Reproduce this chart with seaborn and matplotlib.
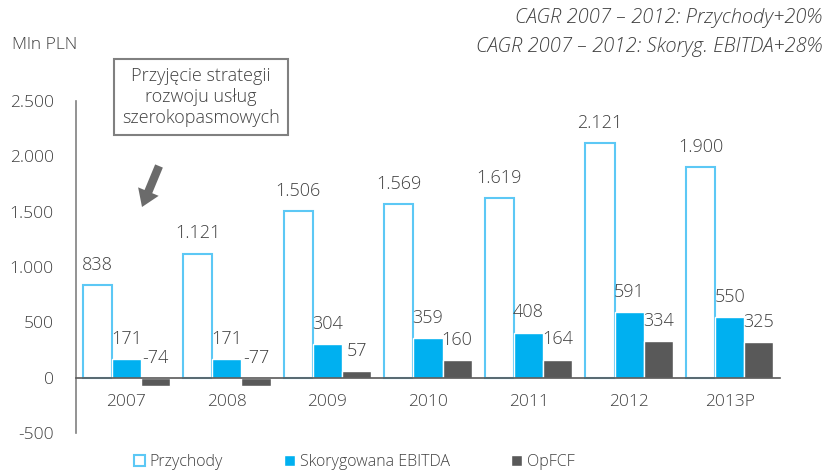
import matplotlib
matplotlib.use("Agg")
import matplotlib.pyplot as plt
import matplotlib.patches as mpatches
from matplotlib.ticker import FuncFormatter
import pandas as pd
import seaborn as sns

# Data
years = ["2007", "2008", "2009", "2010", "2011", "2012", "2013P"]
przychody = [838, 1121, 1506, 1569, 1619, 2121, 1900]
ebitda = [171, 171, 304, 359, 408, 591, 550]
opfcf = [-74, -77, 57, 160, 164, 334, 325]
series = ["Przychody", "Skorygowana EBITDA", "OpFCF"]

df = pd.DataFrame({"year": years * 3,
                   "value": przychody + ebitda + opfcf,
                   "series": [s for s in series for _ in years]})

sns.set_style("white")
plt.rcParams["font.family"] = ["Open Sans", "DejaVu Sans"]
plt.rcParams["font.weight"] = "light"
txt = "#404040"
edge_blue = "#5cc8f5"
colors = {"Przychody": "white", "Skorygowana EBITDA": "#00b0f0", "OpFCF": "#595959"}

fig = plt.figure(figsize=(8.25, 4.73), dpi=100)
ax = fig.add_axes([76 / 825, 1 - 433 / 473, 704 / 825, 332 / 473])

sns.barplot(data=df, x="year", y="value", hue="series", palette=colors,
            width=0.87, gap=0, saturation=1, legend=False, ax=ax)

# Przychody bars: white with light blue outline
for bar in ax.containers[0]:
    bar.set_edgecolor(edge_blue)
    bar.set_linewidth(1.5)

# value labels
for cont, vals in zip(ax.containers, [przychody, ebitda, opfcf]):
    for bar, v in zip(cont, vals):
        x = bar.get_x() + bar.get_width() / 2
        y = max(v, 0)
        ax.annotate(f"{v:,}".replace(",", "."), (x, y), xytext=(0, 8),
                    textcoords="offset points", ha="center", va="bottom",
                    fontsize=13, color=txt)

ax.set_xlim(-0.5, 6.5)
ax.set_ylim(-500, 2500)
ax.set_yticks(range(-500, 2501, 500))
ax.yaxis.set_major_formatter(FuncFormatter(lambda v, p: f"{int(v):,}".replace(",", ".")))
ax.set_xlabel("")
ax.set_ylabel("")
ax.tick_params(axis="y", length=0, pad=16, labelsize=12.5, labelcolor=txt)
ax.tick_params(axis="x", length=0, pad=12, labelsize=12.5, labelcolor=txt)

for s in ["top", "right"]:
    ax.spines[s].set_visible(False)
ax.spines["left"].set_color("#808080")
ax.spines["left"].set_linewidth(1.2)
ax.spines["bottom"].set_position(("data", 0))
ax.spines["bottom"].set_color("#595959")
ax.spines["bottom"].set_linewidth(1.2)
ax.spines["bottom"].set_zorder(3)

# texts
fig.text(12 / 825, 1 - 45 / 473, "Mln PLN", fontsize=12.5, color=txt, va="center")
fig.text(822 / 825, 1 - 18 / 473, "CAGR 2007 – 2012: Przychody+20%",
         fontsize=14.5, style="italic", color=txt, ha="right", va="center")
fig.text(822 / 825, 1 - 47 / 473, "CAGR 2007 – 2012: Skoryg. EBITDA+28%",
         fontsize=14.5, style="italic", color=txt, ha="right", va="center")

fig.text(201 / 825, 1 - 97 / 473, "Przyjęcie strategii\nrozwoju usług\nszerokopasmowych",
         fontsize=13, color=txt, ha="center", va="center", linespacing=1.2,
         bbox=dict(boxstyle="square,pad=0.45", fc="white", ec="#808080", lw=1.5))

ax.annotate("", xy=(142 / 825, 1 - 207 / 473), xytext=(159 / 825, 1 - 166 / 473),
            xycoords="figure fraction", textcoords="figure fraction",
            arrowprops=dict(arrowstyle="simple,head_width=1.6,head_length=1.2,tail_width=0.6",
                            fc="#6b6b6b", ec="none", shrinkA=0, shrinkB=0))

# legend
handles = [mpatches.Patch(facecolor="white", edgecolor=edge_blue, lw=1.5),
           mpatches.Patch(facecolor=colors["Skorygowana EBITDA"]),
           mpatches.Patch(facecolor=colors["OpFCF"])]
fig.legend(handles, series, loc="center", bbox_to_anchor=(354 / 825, 1 - 462 / 473),
           ncol=3, frameon=False, fontsize=11.5, labelcolor=txt, handlelength=0.7,
           handleheight=0.7, handletextpad=0.3, columnspacing=3.8)

fig.savefig("out.png", dpi=100)
